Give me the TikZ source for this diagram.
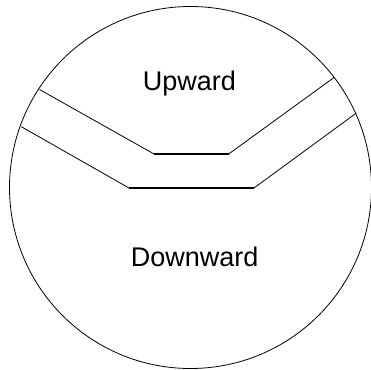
\documentclass[tikz,border=0pt]{standalone}
\usepackage{fontspec}
\setmainfont{Liberation Sans}
\begin{document}
\begin{tikzpicture}[x=1pt,y=-1pt,
  thinline/.style={line width=0.8pt,black},
  thickline/.style={line width=2.4pt,black},
  lbl/.style={anchor=base,inner sep=0pt,font=\fontsize{27}{32}\selectfont}]
\useasboundingbox (0,0) rectangle (371,369);
\draw[thinline] (190.5,187.5) circle[radius=181];
% upper boundary
\coordinate (u1) at (39.5,89.5);
\coordinate (u2) at (154,154);
\coordinate (u3) at (228.7,154);
\coordinate (u4) at (334.3,77.3);
% lower boundary
\coordinate (l1) at (21.3,126.7);
\coordinate (l2) at (129,188);
\coordinate (l3) at (254,188);
\coordinate (l4) at (356,113.3);
\draw[thinline] (u1) -- (u2);
\draw[thickline] (u2) -- (u3);
\draw[thinline] (u3) -- (u4);
\draw[thinline] (l1) -- (l2);
\draw[thickline] (l2) -- (l3);
\draw[thinline] (l3) -- (l4);
\node[lbl] (up) at (189.5,90.7) {Upward};
\node[lbl] (down) at (194.7,266) {Downward};
\end{tikzpicture}
\end{document}
